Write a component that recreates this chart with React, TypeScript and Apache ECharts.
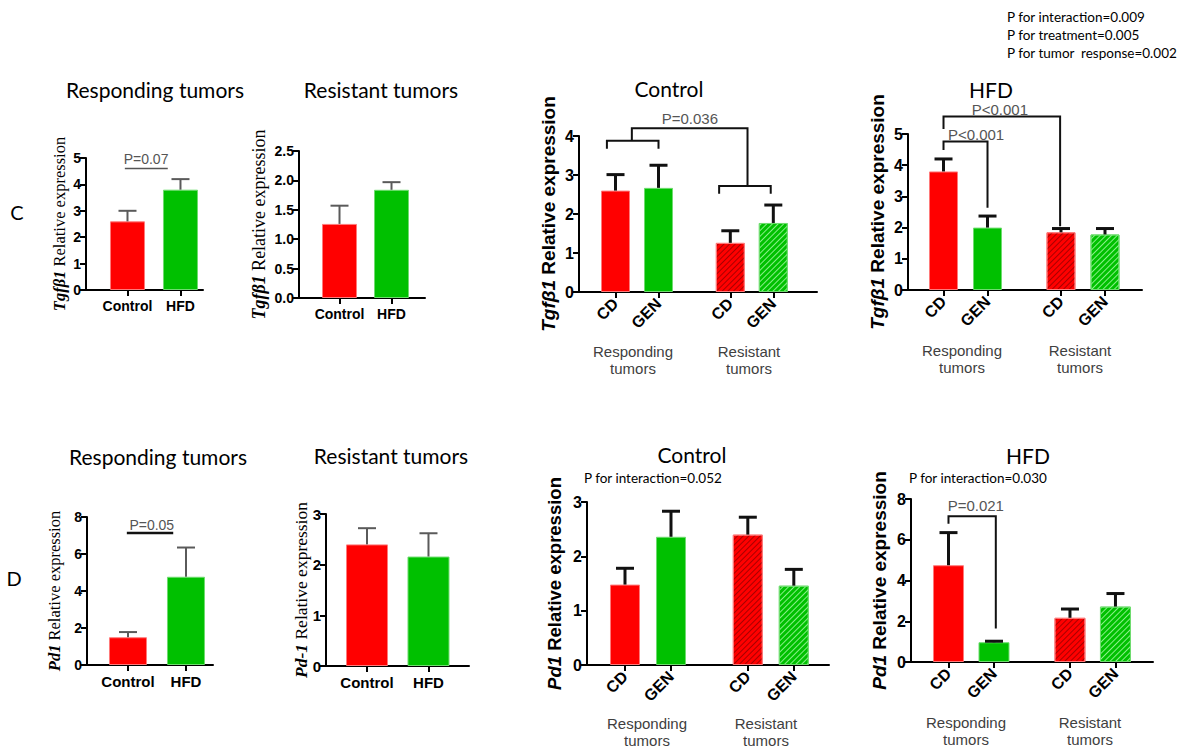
import React, { useEffect, useRef } from 'react';
import * as echarts from 'echarts';

// ---------- DATA ----------
const dietCategories = ['Control', 'HFD'];
const treatmentCategories = ['CD', 'GEN', 'CD', 'GEN'];
const tumorGroups = ['Responding\ntumors', 'Resistant\ntumors'];

// Panel C (Tgfβ1)
const tgfRespondingMean = [2.6, 3.8];
const tgfRespondingErr = [3.0, 4.2];
const tgfResistantMean = [1.26, 1.84];
const tgfResistantErr = [1.57, 1.97];
const tgfControlMean = [2.6, 2.67, 1.26, 1.77];
const tgfControlErr = [3.01, 3.25, 1.57, 2.23];
const tgfHfdMean = [3.8, 2.0, 1.85, 1.78];
const tgfHfdErr = [4.2, 2.37, 1.97, 1.97];

// Panel D (Pd1)
const pdRespondingMean = [1.5, 4.77];
const pdRespondingErr = [1.78, 6.35];
const pdResistantMean = [2.4, 2.16];
const pdResistantErr = [2.72, 2.62];
const pdControlMean = [1.48, 2.36, 2.4, 1.46];
const pdControlErr = [1.78, 2.83, 2.72, 1.76];
const pdHfdMean = [4.75, 0.97, 2.17, 2.72];
const pdHfdErr = [6.35, 1.02, 2.6, 3.36];

// axis slots (category positions on the x value axis)
const slots2 = [1, 2];
const slots4 = [1, 2, 3.67, 4.67];

// significance brackets (data coordinates) and p-value labels
const c1Lines = [[[0.95, 4.6], [1.76, 4.6]]];
const c1Notes = [{ text: 'P=0.07', at: [1.35, 4.95] }];
const c3Lines = [
  [[0.8, 3.67], [0.8, 3.88], [2.0, 3.88], [2.0, 3.67]],
  [[1.38, 3.88], [1.38, 4.2], [4.07, 4.2], [4.07, 2.72]],
  [[3.41, 2.52], [3.41, 2.72], [4.61, 2.72], [4.61, 2.52]],
];
const c3Notes = [{ text: 'P=0.036', at: [2.73, 4.44] }];
const c4Lines = [
  [[1, 5.16], [1, 5.56], [3.65, 5.56], [3.65, 2.04]],
  [[1, 4.49], [1, 4.76], [2, 4.76], [2, 2.64]],
];
const c4Notes = [
  { text: 'P<0.001', at: [2.28, 5.77] },
  { text: 'P<0.001', at: [1.74, 4.98] },
];
const d1Lines = [[[0.98, 7.14], [1.78, 7.14]]];
const d1Notes = [{ text: 'P=0.05', at: [1.41, 7.58] }];
const d4Lines = [[[1, 6.78], [1, 7.15], [2.04, 7.15], [2.04, 1.65]]];
const d4Notes = [{ text: 'P=0.021', at: [1.6, 7.68] }];

const topNotes = ['P for interaction=0.009', 'P for treatment=0.005', 'P for tumor  response=0.002'];

// ---------- STYLE ----------
const RED = '#ff0000';
const GREEN = '#00c000';
const SANS = 'Liberation Sans, Arial, sans-serif';
const SERIF = 'Liberation Serif, Times New Roman, serif';
const CAL = 'Lato, Open Sans, sans-serif';

type Note = { text: string; at: number[] };
type Panel = {
  grid: { left: number; top: number; width: number; height: number };
  xMin: number; xMax: number; slots: number[]; labels: string[]; rotate: number;
  yMax: number; yInterval: number; yDecimals: number;
  means: number[]; errs: number[]; barWidth: number;
  yName: string; serif: boolean; nameSize: number; nameGap: number;
  heavy: boolean; xLabelSize: number; yLabelSize: number;
  lines: number[][][]; lineColor: string; lineWidth: number;
  notes: Note[]; noteSize: number;
};

const panels: Panel[] = [
  {
    grid: { left: 86, top: 158, width: 117, height: 132 },
    xMin: 0.217, xMax: 2.425, slots: slots2, labels: dietCategories, rotate: 0,
    yMax: 5, yInterval: 1, yDecimals: 0, means: tgfRespondingMean, errs: tgfRespondingErr, barWidth: 35,
    yName: '{g|Tgfβ1} Relative expression', serif: true, nameSize: 16.5, nameGap: 18,
    heavy: false, xLabelSize: 14, yLabelSize: 14, lines: c1Lines, lineColor: '#555', lineWidth: 1.5, notes: c1Notes, noteSize: 14,
  },
  {
    grid: { left: 299, top: 151, width: 126, height: 147 },
    xMin: 0.221, xMax: 2.644, slots: slots2, labels: dietCategories, rotate: 0,
    yMax: 2.5, yInterval: 0.5, yDecimals: 1, means: tgfResistantMean, errs: tgfResistantErr, barWidth: 35,
    yName: '{g|Tgfβ1} Relative expression', serif: true, nameSize: 18, nameGap: 31,
    heavy: false, xLabelSize: 14, yLabelSize: 14, lines: [], lineColor: '#555', lineWidth: 1.5, notes: [], noteSize: 14,
  },
  {
    grid: { left: 579, top: 136, width: 238, height: 156 },
    xMin: 0.151, xMax: 5.686, slots: slots4, labels: treatmentCategories, rotate: 45,
    yMax: 4, yInterval: 1, yDecimals: 0, means: tgfControlMean, errs: tgfControlErr, barWidth: 29,
    yName: '{g|Tgfβ1} Relative expression', serif: false, nameSize: 19, nameGap: 21,
    heavy: true, xLabelSize: 16, yLabelSize: 16, lines: c3Lines, lineColor: '#111', lineWidth: 2, notes: c3Notes, noteSize: 15,
  },
  {
    grid: { left: 908, top: 134, width: 234, height: 156 },
    xMin: 0.193, xMax: 5.511, slots: slots4, labels: treatmentCategories, rotate: 45,
    yMax: 5, yInterval: 1, yDecimals: 0, means: tgfHfdMean, errs: tgfHfdErr, barWidth: 29,
    yName: '{g|Tgfβ1} Relative expression', serif: false, nameSize: 19, nameGap: 21,
    heavy: true, xLabelSize: 16, yLabelSize: 16, lines: c4Lines, lineColor: '#111', lineWidth: 2, notes: c4Notes, noteSize: 15,
  },
  {
    grid: { left: 87, top: 517, width: 126, height: 148 },
    xMin: 0.293, xMax: 2.466, slots: slots2, labels: dietCategories, rotate: 0,
    yMax: 8, yInterval: 2, yDecimals: 0, means: pdRespondingMean, errs: pdRespondingErr, barWidth: 38,
    yName: '{g|Pd1} Relative expression', serif: true, nameSize: 16.5, nameGap: 24,
    heavy: false, xLabelSize: 15, yLabelSize: 14, lines: d1Lines, lineColor: '#111', lineWidth: 2.5, notes: d1Notes, noteSize: 14,
  },
  {
    grid: { left: 326, top: 514, width: 143, height: 152 },
    xMin: 0.333, xMax: 2.659, slots: slots2, labels: dietCategories, rotate: 0,
    yMax: 3, yInterval: 1, yDecimals: 0, means: pdResistantMean, errs: pdResistantErr, barWidth: 42,
    yName: '{g|Pd-1} Relative expression', serif: true, nameSize: 17.5, nameGap: 16,
    heavy: false, xLabelSize: 15, yLabelSize: 15, lines: [], lineColor: '#555', lineWidth: 1.5, notes: [], noteSize: 14,
  },
  {
    grid: { left: 587, top: 502, width: 242, height: 163 },
    xMin: 0.174, xMax: 5.435, slots: slots4, labels: treatmentCategories, rotate: 45,
    yMax: 3, yInterval: 1, yDecimals: 0, means: pdControlMean, errs: pdControlErr, barWidth: 30,
    yName: '{g|Pd1} Relative expression', serif: false, nameSize: 18.5, nameGap: 23,
    heavy: true, xLabelSize: 16, yLabelSize: 16, lines: [], lineColor: '#111', lineWidth: 2, notes: [], noteSize: 15,
  },
  {
    grid: { left: 911, top: 499, width: 242, height: 163 },
    xMin: 0.176, xMax: 5.495, slots: slots4, labels: treatmentCategories, rotate: 45,
    yMax: 8, yInterval: 2, yDecimals: 0, means: pdHfdMean, errs: pdHfdErr, barWidth: 31,
    yName: '{g|Pd1} Relative expression', serif: false, nameSize: 19, nameGap: 22,
    heavy: true, xLabelSize: 16, yLabelSize: 16, lines: d4Lines, lineColor: '#111', lineWidth: 2, notes: d4Notes, noteSize: 15,
  },
];

const hatchRed = {
  symbol: 'rect', symbolSize: 1, dashArrayX: [1, 0], dashArrayY: [1, 2.4],
  rotation: -Math.PI / 4, color: 'rgba(110,0,0,0.6)',
};
const hatchGreen = {
  symbol: 'rect', symbolSize: 1, dashArrayX: [1, 0], dashArrayY: [1, 2.4],
  rotation: -Math.PI / 4, color: 'rgba(180,255,180,0.75)',
};

function barStyle(k: number, n: number) {
  const isRed = k % 2 === 0;
  const hatched = n === 4 && k >= 2;
  const s: any = {
    color: isRed ? RED : GREEN,
    borderColor: isRed ? '#ff7a7a' : '#6fdc6f',
    borderWidth: 1,
  };
  if (hatched) s.decal = isRed ? hatchRed : hatchGreen;
  return s;
}

function buildOption() {
  const grids: any[] = [];
  const xAxes: any[] = [];
  const yAxes: any[] = [];
  const series: any[] = [];

  panels.forEach((p, i) => {
    grids.push({ ...p.grid, containLabel: false, outerBoundsMode: 'none' });
    const axisLineStyle = { color: '#000', width: 2 };
    xAxes.push({
      gridIndex: i, type: 'value', min: p.xMin, max: p.xMax,
      axisLine: { show: true, onZero: false, lineStyle: axisLineStyle },
      axisTick: { show: true, customValues: p.slots, length: 6, lineStyle: axisLineStyle },
      axisLabel: {
        show: true, customValues: p.slots, rotate: p.rotate, margin: p.rotate ? 9 : 9,
        fontFamily: SANS, fontWeight: 'bold', fontSize: p.xLabelSize, color: '#000',
        formatter: (v: number) => {
          const k = p.slots.findIndex((s) => Math.abs(s - v) < 1e-6);
          return k >= 0 ? p.labels[k] : '';
        },
      },
      splitLine: { show: false },
    });
    const nameFont = p.serif ? SERIF : SANS;
    yAxes.push({
      gridIndex: i, type: 'value', min: 0, max: p.yMax, interval: p.yInterval,
      axisLine: { show: true, lineStyle: axisLineStyle },
      axisTick: { show: true, length: 6, lineStyle: axisLineStyle },
      axisLabel: {
        fontFamily: SANS, fontWeight: 'bold', fontSize: p.yLabelSize, color: '#000', margin: 5,
        formatter: (v: number) => v.toFixed(p.yDecimals),
      },
      splitLine: { show: false },
      name: p.yName, nameLocation: 'middle', nameGap: p.nameGap, nameMoveOverlap: false,
      nameTextStyle: {
        fontFamily: nameFont, fontSize: p.nameSize, color: '#000',
        fontWeight: p.serif ? 'normal' : 'bold',
        rich: {
          g: { fontFamily: nameFont, fontSize: p.nameSize, fontStyle: 'italic', fontWeight: 'bold', color: '#000' },
        },
      },
    });

    series.push({
      type: 'bar', xAxisIndex: i, yAxisIndex: i, barWidth: p.barWidth, z: 2,
      data: p.means.map((m, k) => ({ value: [p.slots[k], m], itemStyle: barStyle(k, p.means.length) })),
    });

    const errColor = p.heavy ? '#111' : '#5a5a5a';
    const errWidth = p.heavy ? 3 : 2;
    series.push({
      type: 'custom', xAxisIndex: i, yAxisIndex: i, z: 3,
      data: p.means.map((m, k) => [p.slots[k], m, p.errs[k]]),
      renderItem: (params: any, api: any) => {
        const x = api.value(0);
        const a = api.coord([x, api.value(1)]);
        const b = api.coord([x, api.value(2)]);
        const hw = 9;
        return {
          type: 'group',
          children: [
            { type: 'line', shape: { x1: a[0], y1: a[1], x2: b[0], y2: b[1] }, style: { stroke: errColor, lineWidth: errWidth } },
            { type: 'line', shape: { x1: b[0] - hw, y1: b[1], x2: b[0] + hw, y2: b[1] }, style: { stroke: errColor, lineWidth: errWidth } },
          ],
        };
      },
    });

    if (p.lines.length || p.notes.length) {
      series.push({
        type: 'custom', xAxisIndex: i, yAxisIndex: i, z: 4, clip: false,
        data: [[p.slots[0], 0]],
        renderItem: (params: any, api: any) => {
          const children: any[] = [];
          p.lines.forEach((pts) => {
            children.push({
              type: 'polyline',
              shape: { points: pts.map((pt) => api.coord(pt)) },
              style: { stroke: p.lineColor, lineWidth: p.lineWidth, fill: null },
            });
          });
          p.notes.forEach((n) => {
            const c = api.coord(n.at);
            children.push({
              type: 'text', x: c[0], y: c[1],
              style: {
                text: n.text, fill: '#555', font: `${p.noteSize}px ${SANS}`,
                align: 'center', verticalAlign: 'middle', textAlign: 'center', textVerticalAlign: 'middle',
              },
            });
          });
          return { type: 'group', children };
        },
      });
    }
  });

  const txt = (text: string, x: number, y: number, font: string, fill = '#000', align = 'center', lineHeight?: number) => ({
    type: 'text', x, y, silent: true,
    style: {
      text, fill, font, textAlign: align, textVerticalAlign: 'middle', align, verticalAlign: 'middle',
      ...(lineHeight ? { lineHeight } : {}),
    },
  });

  const T = `21px ${CAL}`;
  const graphics: any[] = [
    txt('Responding tumors', 155, 89, T),
    txt('Resistant tumors', 381, 89, T),
    txt('Control', 669, 88, T),
    txt('HFD', 991, 89, T),
    txt('Responding tumors', 158, 456, T),
    txt('Resistant tumors', 391, 455, T),
    txt('Control', 692, 454, T),
    txt('HFD', 1028, 455, T),
    txt('C', 17, 212, `20px ${CAL}`),
    txt('D', 14, 578, `20px ${CAL}`),
    txt(topNotes[0], 1007, 17, `13.5px ${CAL}`, '#000', 'left'),
    txt(topNotes[1], 1007, 35, `13.5px ${CAL}`, '#000', 'left'),
    txt(topNotes[2], 1007, 53, `13.5px ${CAL}`, '#000', 'left'),
    txt('P for interaction=0.052', 584, 478, `13.5px ${CAL}`, '#000', 'left'),
    txt('P for interaction=0.030', 909, 478, `13.5px ${CAL}`, '#000', 'left'),
    txt(tumorGroups[0], 633, 360, `15px ${SANS}`, '#404040', 'center', 17),
    txt(tumorGroups[1], 749, 360, `15px ${SANS}`, '#404040', 'center', 17),
    txt(tumorGroups[0], 962, 359, `15px ${SANS}`, '#404040', 'center', 17),
    txt(tumorGroups[1], 1080, 359, `15px ${SANS}`, '#404040', 'center', 17),
    txt(tumorGroups[0], 647, 732, `15px ${SANS}`, '#404040', 'center', 17),
    txt(tumorGroups[1], 766, 732, `15px ${SANS}`, '#404040', 'center', 17),
    txt(tumorGroups[0], 966, 731, `15px ${SANS}`, '#404040', 'center', 17),
    txt(tumorGroups[1], 1090, 731, `15px ${SANS}`, '#404040', 'center', 17),
  ];

  return {
    animation: false,
    backgroundColor: '#ffffff',
    grid: grids,
    xAxis: xAxes,
    yAxis: yAxes,
    series,
    graphic: { elements: graphics },
  };
}

export default function App() {
  const ref = useRef<HTMLDivElement>(null);
  useEffect(() => {
    if (!ref.current) return;
    const chart = echarts.init(ref.current, undefined, { renderer: 'svg' });
    chart.setOption(buildOption() as any);
    return () => chart.dispose();
  }, []);
  return <div ref={ref} style={{ position: 'fixed', left: 0, top: 0, width: 1189, height: 754, background: '#fff' }} />;
}
